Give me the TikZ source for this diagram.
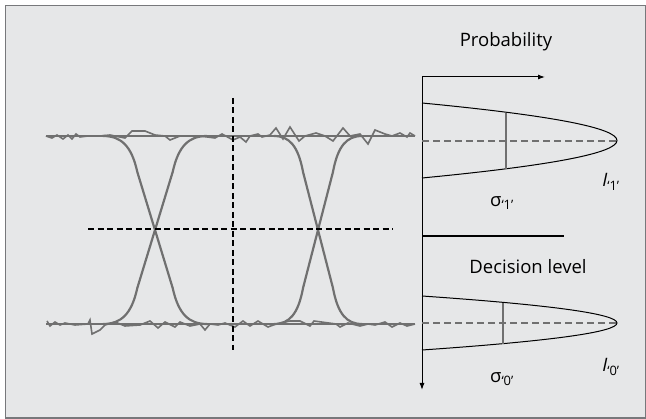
\documentclass[tikz,border=0pt]{standalone}
\usepackage{fontspec}
\setmainfont{Open Sans}
\usetikzlibrary{arrows.meta}

\definecolor{panel}{HTML}{E6E7E8}
\definecolor{rim}{HTML}{77787B}
\definecolor{tracegray}{HTML}{707070}

\begin{document}
\begin{tikzpicture}[x=1pt, y=-1pt,
  eyeline/.style={tracegray, line width=2.2pt, line join=round},
  jitter/.style={tracegray, line width=1.6pt, line join=miter},
  guide/.style={black, line width=1.5pt, dash pattern=on 6pt off 3.5pt},
  mean/.style={tracegray, line width=2pt, dash pattern=on 7pt off 4pt},
  axis/.style={black, line width=1pt, -{Latex[length=7pt, width=5pt]}},
  pdf/.style={black, line width=1pt},
  lbl/.style={font=\fontsize{18.5}{20}\selectfont, inner sep=0pt},
]
  \useasboundingbox (0,0) rectangle (646,419);
  \filldraw[fill=panel, draw=rim, line width=1.5pt] (5.5,5.5) rectangle (645.5,418);

  % Eye: rails and jitter
  \draw[eyeline] (46,136) -- (415,136);
  \draw[eyeline] (46,324) -- (415,324);
  \draw[jitter] plot coordinates {(46,136) (52,138) (57,135) (63,139) (68,135) (72,139)
    (76,134) (80,137) (88,136) (100,136) (110,135) (125,138) (132,131) (145,131)
    (155,135) (165,136) (170,140) (180,136) (200,136) (215,138) (222,134) (233,140)
    (240,137) (246,142) (250,136) (258,134) (262,137) (270,135) (276,128) (283,139)
    (290,127) (299,141) (305,136) (316,133) (325,136) (333,141) (343,128) (350,136)
    (360,134) (368,144) (375,130) (385,134) (392,136) (400,133) (407,137) (410,133) (415,136)};
  \draw[jitter] plot coordinates {(47,321) (50,326) (55,322) (60,325) (65,323) (75,325)
    (88,324) (90,320) (92,334) (100,330) (105,325) (115,322) (125,326) (140,325)
    (150,321) (158,328) (165,322) (175,327) (180,322) (190,326) (200,324) (205,330)
    (210,324) (218,325) (225,323) (235,327) (243,321) (250,326) (258,321) (268,327)
    (276,324) (290,321) (300,321) (310,326) (314,321) (336,324) (340,327) (348,323)
    (360,326) (368,324) (375,325) (385,322) (392,327) (400,323) (407,326) (415,324)};

  % Transitions
  \foreach \cx/\w in {155/52, 318/44} {
    \draw[eyeline] (\cx-\w,136) .. controls (\cx-0.65*\w,136) and (\cx-0.45*\w,146)
      .. (\cx-0.34*\w,172) -- (\cx+0.34*\w,288) .. controls (\cx+0.45*\w,314) and (\cx+0.65*\w,324)
      .. (\cx+\w,324);
    \draw[eyeline] (\cx-\w,324) .. controls (\cx-0.65*\w,324) and (\cx-0.45*\w,314)
      .. (\cx-0.34*\w,288) -- (\cx+0.34*\w,172) .. controls (\cx+0.45*\w,146) and (\cx+0.65*\w,136)
      .. (\cx+\w,136);
  }

  % Sampling instant and threshold
  \coordinate (vt) at (233,98);
  \coordinate (vb) at (233,350);
  \coordinate (hl) at (88,229);
  \coordinate (hr) at (393,229);
  \draw[guide] (vt) -- (vb);
  \draw[guide] (hl) -- (hr);

  % Probability axes
  \coordinate (orig) at (422,77);
  \coordinate (pend) at (545,77);
  \coordinate (vend) at (422,390);
  \draw[axis] (orig) -- (pend);
  \draw[axis] (orig) -- (vend);
  \node[lbl, anchor=base] (prob) at (506,47) {Probability};

  % Density for '1'
  \draw[mean] (422,141) -- (617,141);
  \draw[pdf] (422,103) .. controls (682,128) and (682,153) .. (422,178);
  \draw[eyeline] (506,113) -- (506,169);
  \node[lbl] (sig1) at (502,203) {σ\textsubscript{‘1’}};
  \node[lbl] (lev1) at (611,182) {\itshape I\textsubscript{\upshape‘1’}};

  % Decision level
  \coordinate (dl) at (422,236);
  \coordinate (dr) at (564,236);
  \draw[black, line width=2pt] (dl) -- (dr);
  \node[lbl, anchor=base] (dec) at (528,274) {Decision level};

  % Density for '0'
  \draw[mean] (422,323) -- (617,323);
  \draw[pdf] (422,296) .. controls (682,314) and (682,332) .. (422,350);
  \draw[eyeline] (503,303) -- (503,344);
  \node[lbl] (sig0) at (502,379) {σ\textsubscript{‘0’}};
  \node[lbl] (lev0) at (611,367) {\itshape I\textsubscript{\upshape‘0’}};
\end{tikzpicture}
\end{document}
